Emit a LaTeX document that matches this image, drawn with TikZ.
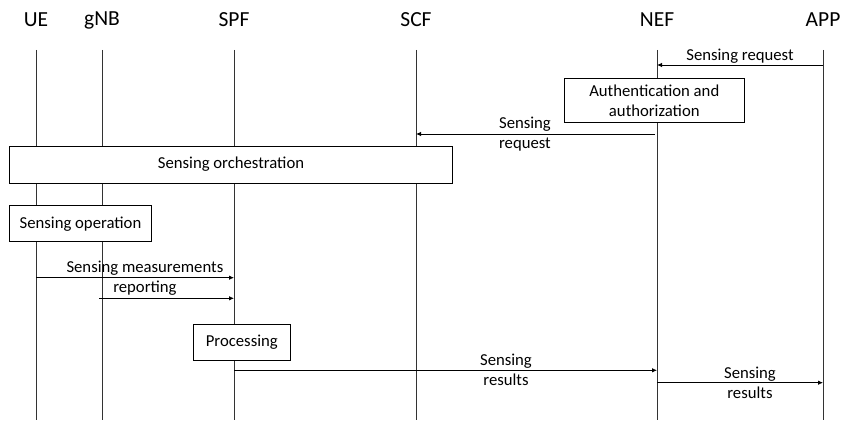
\documentclass[tikz,border=0pt]{standalone}
\usepackage{fontspec}
\setmainfont{Carlito}
\usetikzlibrary{arrows.meta}
\tikzset{
  head/.style={font=\fontsize{21.5}{24}\selectfont},
  txt/.style={font=\fontsize{16.7}{20}\selectfont, align=center},
  box/.style={txt, draw, fill=white, inner sep=0pt},
  msg/.style={-{Latex[length=5pt,width=4.5pt]}},
  life/.style={draw=black!80}
}
\begin{document}
\begin{tikzpicture}[x=1pt,y=-1pt,line width=0.8pt]
      \useasboundingbox (0,0) rectangle (842,420);
      \draw
        (36,20) node[head] (ue){UE}
        (102,20) node[head] (gnb){gNB}
        (234,20) node[head] (spf){SPF}
        (416,20) node[head] (scf){SCF}
        (657,20) node[head] (nef){NEF}
        (823,20) node[head] (app){APP};
      % lifelines
      \coordinate (ue1) at (36,50);   \coordinate (ue2) at (36,420);
      \coordinate (gnb1) at (102,50); \coordinate (gnb2) at (102,420);
      \coordinate (spf1) at (234,50); \coordinate (spf2) at (234,420);
      \coordinate (scf1) at (416,50); \coordinate (scf2) at (416,420);
      \coordinate (nef1) at (657,50); \coordinate (nef2) at (657,420);
      \coordinate (app1) at (823,50); \coordinate (app2) at (823,420);
      \begin{scope}[life]
        \draw (ue1) to (ue2);
        \draw (gnb1) to (gnb2);
        \draw (spf1) to (spf2);
        \draw (scf1) to (scf2);
        \draw (nef1) to (nef2);
        \draw (app1) to (app2);
      \end{scope}
      % boxes
      \node[box, minimum width=180pt, minimum height=44.7pt] (auth) at (654.3,100.3)
        {Authentication and\\authorization};
      \node[box, minimum width=443.4pt, minimum height=37pt] (orch) at (231,164.5)
        {Sensing orchestration};
      \node[box, minimum width=142.4pt, minimum height=36pt] (oper) at (80.5,223.7)
        {Sensing operation};
      \node[box, minimum width=97.7pt, minimum height=36.7pt] (proc) at (241.8,342.3)
        {Processing};
      % message ends
      \coordinate (req1a) at (823,65);    \coordinate (req1b) at (657,65);
      \coordinate (req2a) at (655,134);   \coordinate (req2b) at (416,134);
      \coordinate (meas1a) at (36,277.7); \coordinate (meas1b) at (234,277.7);
      \coordinate (meas2a) at (99,298.3); \coordinate (meas2b) at (234,298.3);
      \coordinate (res1a) at (234,370.3); \coordinate (res1b) at (657,370.3);
      \coordinate (res2a) at (657,382.7); \coordinate (res2b) at (823,382.7);
      \begin{scope}[msg]
        \draw (req1a) to node[txt, above, inner sep=1pt] (req1l){Sensing request} (req1b);
        \draw (req2a) to node[txt, pos=0.544, align=left] (req2l){Sensing\\request} (req2b);
        \draw (meas1a) to node[txt, pos=0.55] (measl){Sensing measurements\\reporting} (meas1b);
        \draw (meas2a) to (meas2b);
        \draw (res1a) to node[txt, pos=0.643] (res1l){Sensing\\results} (res1b);
        \draw (res2a) to node[txt, pos=0.56] (res2l){Sensing\\results} (res2b);
      \end{scope}
    \end{tikzpicture}
\end{document}
